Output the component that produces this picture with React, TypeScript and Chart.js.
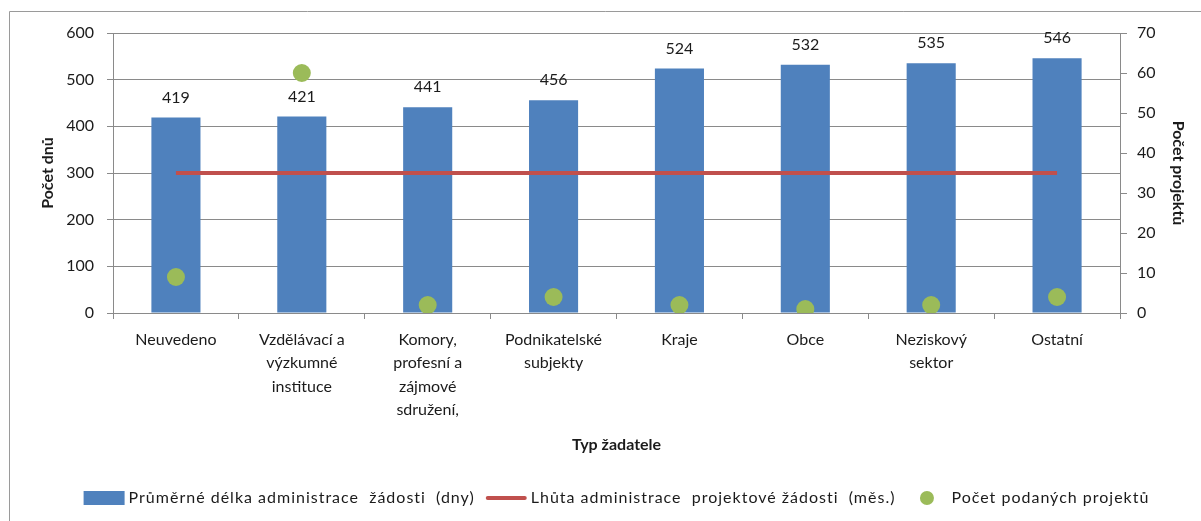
import React, { useEffect, useRef } from "react";
import { Chart, registerables } from "chart.js";

Chart.register(...registerables);

// ---- data ----
const categories: string[][] = [
  ["Neuvedeno"],
  ["Vzdělávací a", "výzkumné", "instituce"],
  ["Komory,", "profesní a", "zájmové", "sdružení,"],
  ["Podnikatelské", "subjekty"],
  ["Kraje"],
  ["Obce"],
  ["Neziskový", "sektor"],
  ["Ostatní"],
];
const avgDays = [419, 421, 441, 456, 524, 532, 535, 546];
const deadlineMonths = [35, 35, 35, 35, 35, 35, 35, 35];
const projectCounts = [9, 60, 2, 4, 2, 1, 2, 4];

const seriesLabels = [
  "Průměrné délka administrace  žádosti  (dny)",
  "Lhůta administrace  projektové žádosti  (měs.)",
  "Počet podaných projektů",
];
const leftAxisTitle = "Počet dnů";
const rightAxisTitle = "Počet projektů";
const xAxisTitle = "Typ žadatele";
const leftAxisRange = { min: 0, max: 600, step: 100 };
const rightAxisRange = { min: 0, max: 70, step: 10 };

// ---- styles ----
const FONT = "Lato";
const TEXT = "#1b1b1b";
const GRID = "#8a8a8a";
const BLUE = "#4F81BD";
const RED = "#C0504D";
const GREEN = "#9BBB59";

const framePlugin = {
  id: "frame",
  afterDraw(chart: any) {
    const ctx = chart.ctx;
    ctx.save();
    ctx.strokeStyle = "#9a9a9a";
    ctx.lineWidth = 1;
    ctx.beginPath();
    ctx.moveTo(9.5, chart.height);
    ctx.lineTo(9.5, 11.5);
    ctx.lineTo(chart.width, 11.5);
    ctx.stroke();
    ctx.restore();
  },
};

const barLabelPlugin = {
  id: "barLabels",
  afterDatasetsDraw(chart: any) {
    const ctx = chart.ctx;
    const meta = chart.getDatasetMeta(0);
    const ds = chart.data.datasets[0];
    ctx.save();
    ctx.font = `16px ${FONT}`;
    ctx.fillStyle = TEXT;
    ctx.textAlign = "center";
    ctx.textBaseline = "middle";
    meta.data.forEach((el: any, i: number) => {
      ctx.fillText(String(ds.data[i]), el.x, el.y - 20);
    });
    ctx.restore();
  },
};

const legendPlugin = {
  id: "customLegend",
  afterDraw(chart: any) {
    const ctx = chart.ctx;
    const area = chart.chartArea;
    const markerW = 41;
    const gapText = 4;
    const gapItem = 11;
    const y = 498;
    ctx.save();
    ctx.font = `16px ${FONT}`;
    (ctx as any).letterSpacing = "1px";
    const labels = chart.data.datasets.map((d: any) => d.label as string);
    const widths = labels.map((t: string) => ctx.measureText(t).width);
    let total = 0;
    widths.forEach((w: number, i: number) => {
      total += markerW + gapText + w + (i < widths.length - 1 ? gapItem : 0);
    });
    let x = (area.left + area.right) / 2 - total / 2;
    labels.forEach((t: string, i: number) => {
      if (i === 0) {
        ctx.fillStyle = BLUE;
        ctx.fillRect(x, y - 7, markerW, 14);
      } else if (i === 1) {
        ctx.strokeStyle = RED;
        ctx.lineWidth = 4;
        ctx.lineCap = "round";
        ctx.beginPath();
        ctx.moveTo(x + 2, y);
        ctx.lineTo(x + markerW - 2, y);
        ctx.stroke();
      } else {
        ctx.fillStyle = GREEN;
        ctx.beginPath();
        ctx.arc(x + markerW / 2, y, 7, 0, Math.PI * 2);
        ctx.fill();
      }
      x += markerW + gapText;
      ctx.fillStyle = TEXT;
      ctx.textAlign = "left";
      ctx.textBaseline = "middle";
      ctx.fillText(t, x, y);
      x += widths[i] + gapItem;
    });
    ctx.restore();
  },
};

export default function App() {
  const canvasRef = useRef<HTMLCanvasElement | null>(null);

  useEffect(() => {
    if (!canvasRef.current) return;
    const chart = new Chart(canvasRef.current, {
      type: "bar",
      data: {
        labels: categories,
        datasets: [
          {
            type: "bar",
            label: seriesLabels[0],
            data: avgDays,
            backgroundColor: BLUE,
            yAxisID: "y",
            categoryPercentage: 1,
            barPercentage: 0.39,
            order: 3,
          },
          {
            type: "line",
            label: seriesLabels[1],
            data: deadlineMonths,
            borderColor: RED,
            borderWidth: 4,
            pointRadius: 0,
            yAxisID: "y1",
            order: 2,
          },
          {
            type: "line",
            label: seriesLabels[2],
            data: projectCounts,
            showLine: false,
            pointRadius: 9,
            pointBackgroundColor: GREEN,
            pointBorderWidth: 0,
            borderColor: GREEN,
            backgroundColor: GREEN,
            yAxisID: "y1",
            order: 1,
          },
        ] as any,
      },
      options: {
        animation: false,
        responsive: false,
        layout: { padding: { top: 33, left: 0, right: 0, bottom: 0 } },
        plugins: {
          legend: { display: false },
          tooltip: { enabled: false },
        },
        scales: {
          x: {
            offset: true,
            grid: {
              offset: true,
              drawOnChartArea: false,
              tickLength: 6,
              color: GRID,
            },
            border: { color: GRID },
            ticks: {
              color: TEXT,
              padding: 9,
              maxRotation: 0,
              autoSkip: false,
              font: { family: FONT, size: 16, lineHeight: 1.47 },
            },
            title: {
              display: true,
              text: xAxisTitle,
              color: TEXT,
              font: { family: FONT, size: 16, weight: "bold" },
              padding: { top: 0, bottom: 67 },
            },
            afterFit(scale: any) {
              scale.height = 208;
            },
          },
          y: {
            position: "left",
            min: leftAxisRange.min,
            max: leftAxisRange.max,
            ticks: {
              stepSize: leftAxisRange.step,
              color: TEXT,
              padding: 13,
              font: { family: FONT, size: 16 },
            },
            grid: { color: GRID, tickLength: 6 },
            border: { color: GRID },
            title: {
              display: true,
              text: leftAxisTitle,
              color: TEXT,
              font: { family: FONT, size: 16, weight: "bold" },
              padding: { top: 38, bottom: 0 },
            },
            afterFit(scale: any) {
              scale.width = 113;
            },
          },
          y1: {
            position: "right",
            min: rightAxisRange.min,
            max: rightAxisRange.max,
            ticks: {
              stepSize: rightAxisRange.step,
              color: TEXT,
              padding: 10,
              font: { family: FONT, size: 16 },
            },
            grid: { drawOnChartArea: false, color: GRID, tickLength: 7 },
            border: { color: GRID },
            title: {
              display: true,
              text: rightAxisTitle,
              color: TEXT,
              font: { family: FONT, size: 16, weight: "bold" },
              padding: { top: 13, bottom: 0 },
            },
            afterFit(scale: any) {
              scale.width = 81;
            },
          },
        },
      } as any,
      plugins: [framePlugin, barLabelPlugin, legendPlugin],
    });
    return () => chart.destroy();
  }, []);

  return (
    <div style={{ position: "absolute", left: 0, top: 0, width: 1201, height: 521, background: "#fff" }}>
      <canvas ref={canvasRef} width={1201} height={521} style={{ width: 1201, height: 521, display: "block" }} />
    </div>
  );
}
